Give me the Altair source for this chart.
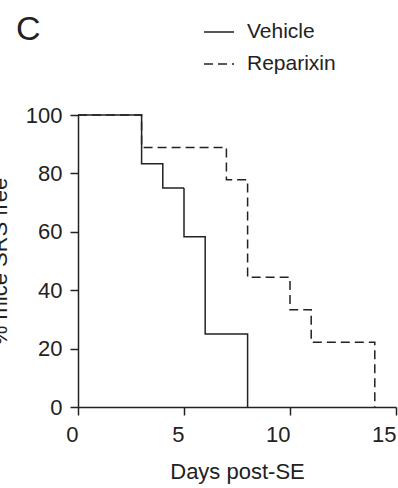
import altair as alt
import pandas as pd

FONT = "Liberation Sans"
INK = "#222222"

vehicle_days = [0, 3, 4, 5, 6, 8]
vehicle_pct = [100, 83.3, 75, 58.3, 25, 0]
repar_days = [0, 3, 7, 8, 10, 11, 14]
repar_pct = [100, 88.9, 77.8, 44.4, 33.3, 22.2, 0]
groups = ["Vehicle", "Reparixin"]
x_ticks = [0, 5, 10, 15]
y_ticks = [0, 20, 40, 60, 80, 100]

rows = []
for d, p in zip(repar_days, repar_pct):
    rows.append({"day": d, "pct": p, "group": "Reparixin", "ord": 0})
for d, p in zip(vehicle_days, vehicle_pct):
    rows.append({"day": d, "pct": p, "group": "Vehicle", "ord": 1})
df = pd.DataFrame(rows)

chart = alt.Chart(df).mark_line(
    interpolate="step-after", color=INK, strokeWidth=1.5, clip=False
).encode(
    x=alt.X("day:Q", scale=alt.Scale(domain=[0, 15], nice=False, zero=True),
            axis=alt.Axis(values=x_ticks, title="Days post-SE", grid=False,
                          tickSize=8, labelPadding=9, labelAlign="right",
                          titlePadding=16)),
    y=alt.Y("pct:Q", scale=alt.Scale(domain=[0, 100], nice=False),
            axis=alt.Axis(values=y_ticks, title="% mice SRS free", grid=False,
                          tickSize=8, labelPadding=8, titleX=-72, titleY=146,
                          titleBaseline="alphabetic", titleAngle=-90)),
    strokeDash=alt.StrokeDash("group:N",
                              scale=alt.Scale(domain=groups, range=[[1, 0], [9, 5]]),
                              legend=alt.Legend(title=None, orient="none",
                                                legendX=125, legendY=-99,
                                                symbolType="stroke", symbolSize=900,
                                                symbolStrokeWidth=1.5,
                                                symbolStrokeColor=INK,
                                                labelFontSize=21, labelFont=FONT,
                                                labelColor=INK, labelOffset=12,
                                                rowPadding=6, padding=0)),
    order=alt.Order("ord:Q"),
    detail="group:N",
).properties(
    width=318, height=292,
    padding={"left": 78, "top": 115, "right": 2, "bottom": 81},
    autosize=alt.AutoSizeParams(type="none"),
    title=alt.TitleParams("C", anchor="start", frame="group", fontSize=34,
                          font=FONT, fontWeight="normal", color=INK,
                          baseline="alphabetic", dx=-62, dy=58, offset=0),
).configure_view(stroke=None).configure_axis(
    domainColor=INK, tickColor=INK, domainWidth=1.5, tickWidth=1.5,
    labelFont=FONT, titleFont=FONT, labelFontSize=22, titleFontSize=22,
    labelColor=INK, titleColor=INK, titleFontWeight="normal",
)

chart.save("out.html", embed_options={"renderer": "svg", "actions": False})
